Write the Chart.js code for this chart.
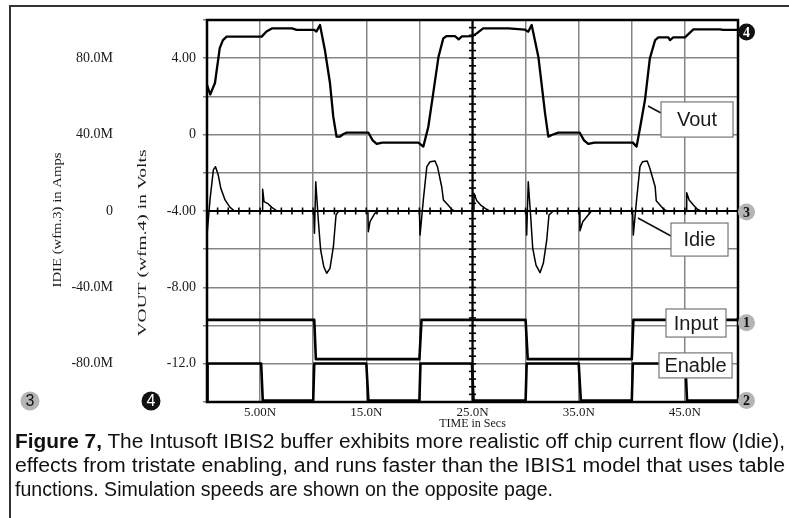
<!DOCTYPE html>
<html>
<head>
<meta charset="utf-8">
<script src="https://cdn.jsdelivr.net/npm/chart.js@4.4.1/dist/chart.umd.min.js"></script>
<style>
  html, body { margin: 0; padding: 0; background: #fff; }
  #wrap { position: relative; width: 789px; height: 518px; overflow: hidden; }
  #frame { position: absolute; left: 9px; top: 5px; width: 820px; height: 600px;
           border-left: 2px solid #333; border-top: 2px solid #333; }
  canvas { position: absolute; left: 0; top: 0; }
  #caption { position: absolute; left: 15px; top: 429px; color: #111; white-space: nowrap;
             font-family: 'Liberation Sans Narrow', 'Liberation Sans', Arial, sans-serif;
             font-size: 20px; line-height: 24px; }
  #caption span { display: inline-block; transform-origin: 0 50%; }
</style>
</head>
<body>
<div id="wrap">
  <div id="frame"></div>
  <canvas id="scope" width="789" height="518"></canvas>
  <div id="caption">
    <div><span data-w="770"><b>Figure 7,</b> The Intusoft IBIS2 buffer exhibits more realistic off chip current flow (Idie),</span></div>
    <div><span data-w="770">effects from tristate enabling, and runs faster than the IBIS1 model that uses table</span></div>
    <div><span data-w="538">functions. Simulation speeds are shown on the opposite page.</span></div>
  </div>
</div>
<script>
// time axis (ns) and labelled ticks
const timeTicks = [5, 15, 25, 35, 45];
const timeTickText = ['5.00N', '15.0N', '25.0N', '35.0N', '45.0N'];
const voutTicks = [4, 0, -4, -8, -12];
const voutTickText = ['4.00', '0', '-4.00', '-8.00', '-12.0'];
const idieTicks = [80, 40, 0, -40, -80];
const idieTickText = ['80.0M', '40.0M', '0', '-40.0M', '-80.0M'];

// wfm.4 VOUT (V)
const voutT = [0, 0.3, 0.75, 1.2, 1.5, 1.85, 5.15, 5.6, 6.1, 8.0, 8.45, 10.1, 10.3, 10.64, 11.1, 11.58, 11.89, 12.2, 12.5, 12.84, 13.16,
  15.2, 15.6, 15.98, 16.5, 19.9, 20.37, 20.84, 21.3, 21.8, 22.25, 22.57, 23.35, 23.7, 24.0, 25.0, 25.4, 26.0,
  28.4, 29.9, 30.25, 30.57, 31.2, 31.5, 31.83, 32.14, 32.46, 33.08, 35.1, 35.5, 35.9, 36.5, 40.1, 40.45, 40.77,
  41.24, 41.7, 42.2, 42.5, 43.44, 43.6, 43.9, 45.0, 45.4, 45.8, 48.3, 48.6, 50];
const voutV = [2.6, 2.1, 2.7, 4.53, 4.95, 5.13, 5.13, 5.4, 5.56, 5.56, 5.48, 5.48, 5.39, 5.74, 4.43, 2.7, 0.94, -0.11, -0.11, 0.03, 0.1,
  0.1, -0.3, -0.49, -0.42, -0.42, -0.63, 0.41, 2.16, 4.08, 5.04, 5.16, 5.16, 4.99, 5.14, 5.16, 5.3, 5.56,
  5.56, 5.5, 5.39, 5.74, 4.08, 2.68, 1.12, -0.11, -0.02, 0.1, 0.1, -0.3, -0.49, -0.42, -0.42, -0.63, 0.33,
  1.81, 3.99, 4.95, 5.09, 5.09, 4.95, 5.09, 5.09, 5.3, 5.51, 5.51, 5.48, 5.48];

// wfm.3 IDIE (mA)
const idieT = [0, 0.28, 0.6, 0.8, 1.06, 1.3, 1.7, 2.17, 2.6, 5.2, 5.24, 5.37, 5.77, 6.1, 6.6,
  10.05, 10.12, 10.24, 10.48, 10.7, 11.0, 11.27, 11.58, 11.9, 12.15, 12.36, 12.8,
  15.15, 15.19, 15.35, 15.8, 16.2, 20.0, 20.06, 20.37, 20.7, 21.0, 21.47, 21.7, 22.1, 22.26, 22.7, 23.04, 23.3,
  25.1, 25.14, 25.4, 25.77, 26.2, 26.6, 30.05, 30.1, 30.25, 30.48, 30.67, 30.98, 31.36, 31.67, 31.99, 32.2, 32.6,
  35.08, 35.12, 35.38, 35.76, 36.2, 40.08, 40.14, 40.45, 40.77, 41.0, 41.45, 41.7, 42.2, 42.3, 42.65, 43.0, 43.3,
  45.13, 45.17, 45.4, 45.8, 46.17, 46.5, 50];
const idieI = [-12.6, 5.8, 21.5, 23.2, 18.8, 11.9, 5.8, 1.9, 0, 0, 11.4, 4.9, 3.7, 1.9, 0,
  0, -11.7, 15.3, -4.7, -20.4, -29.2, -32.6, -30, -18.7, -2.1, -0.3, 0,
  0, -10.8, -5.6, -1.2, 0, 0, -12.6, 5.8, 23.2, 25.8, 26.2, 23.2, 12.7, 5.8, 3.1, 0.9, 0,
  0, 9.3, 5.4, 3.1, 1.4, 0, 0, -12.6, 15.3, -3, -19.5, -28.3, -32.3, -27.4, -15.2, -2.1, 0,
  0, -10.3, -5.6, -3, 0, 0, -12.6, 5.8, 23.2, 25.8, 26.2, 22.4, 12.7, 5.4, 3.1, 0.9, 0,
  0, 9.6, 5.8, 3.1, 0.9, 0, 0];

// wfm.1 Input and wfm.2 Enable (logic level)
const inputT = [0, 10.1, 10.25, 20.0, 20.2, 30.0, 30.2, 40.0, 40.15, 50];
const inputL = [1, 1, 0, 0, 1, 1, 0, 0, 1, 1];
const enableT = [0, 0.05, 5.1, 5.25, 10.0, 10.1, 15.0, 15.2, 20.0, 20.1, 24.95, 25.1, 30.0, 30.1, 35.0, 35.2, 40.0, 40.1, 45.05, 45.2, 50];
const enableL = [0, 1, 1, 0, 0, 1, 1, 0, 0, 1, 1, 0, 0, 1, 1, 0, 0, 1, 1, 0, 0];

const zip = (xs, ys) => xs.map((t, i) => ({ x: t, y: ys[i] }));

const GRID = '#858585';
const serif = "'Liberation Serif', 'Times New Roman', serif";
const sans = "'Liberation Sans', Arial, sans-serif";

// label boxes placed in time / volt coordinates
const boxes = [
  { text: 'Vout', t0: 42.75, t1: 49.53, v0: 1.71, v1: -0.13, lead: [41.53, 1.5, 42.75, 1.13] },
  { text: 'Idie', t0: 43.69, t1: 49.06, v0: -4.63, v1: -6.36, lead: [40.58, -4.37, 43.69, -5.31] },
  { text: 'Input', t0: 43.22, t1: 48.87, v0: -9.13, v1: -10.6 },
  { text: 'Enable', t0: 42.56, t1: 49.44, v0: -11.43, v1: -12.74 },
];

// rotated axis titles: text, centre x, centre y, printed length
const axisTitles = [
  ['IDIE (wfm.3) in Amps', 58, 220, 135],
  ['VOUT (wfm.4) in Volts', 143, 243, 187],
];

function badge(ctx, x, y, r, label, dark, font) {
  ctx.beginPath();
  ctx.arc(x, y, r, 0, Math.PI * 2);
  ctx.fillStyle = dark ? '#111' : '#b4b4b4';
  ctx.fill();
  ctx.fillStyle = dark ? '#fff' : '#111';
  ctx.font = font;
  ctx.textAlign = 'center';
  ctx.textBaseline = 'middle';
  ctx.fillText(label, x, y + 1);
}

const scopeDecor = {
  id: 'scopeDecor',
  beforeDatasetsDraw(chart) {
    const { ctx, chartArea: a, scales: { x, yI, yV } } = chart;
    const seg = (x1, y1, x2, y2) => { ctx.beginPath(); ctx.moveTo(x1, y1); ctx.lineTo(x2, y2); ctx.stroke(); };
    const cx = x.getPixelForValue(25);
    const cy = yI.getPixelForValue(0);
    ctx.save();
    ctx.strokeStyle = '#000';
    ctx.lineWidth = 2.2;
    seg(a.left, cy, a.right, cy);
    seg(cx, a.top, cx, a.bottom);
    ctx.lineWidth = 1.6;
    for (let t = 0; t <= 50; t++) {
      const px = x.getPixelForValue(t);
      seg(px, cy - 3.5, px, cy + 3.5);
    }
    for (let k = 0; k <= 50; k++) {
      const py = yV.getPixelForValue(-14 + k * 0.4);
      seg(cx - 3.5, py, cx + 3.5, py);
    }
    ctx.restore();
  },
  afterDatasetsDraw(chart) {
    const { ctx, chartArea: a, scales: { x, yV, yI, yIn, yEn } } = chart;
    const seg = (x1, y1, x2, y2) => { ctx.beginPath(); ctx.moveTo(x1, y1); ctx.lineTo(x2, y2); ctx.stroke(); };
    ctx.save();
    // input trace runs on to its marker
    const inY = yIn.getPixelForValue(inputL[inputL.length - 1]);
    ctx.strokeStyle = '#000';
    ctx.lineWidth = 2.5;
    seg(a.right - 2, inY, a.right + 6, inY);

    // plot frame
    ctx.lineWidth = 2.5;
    ctx.strokeRect(a.left, a.top, a.right - a.left, a.bottom - a.top);

    // label boxes
    boxes.forEach(b => {
      const l = x.getPixelForValue(b.t0), r = x.getPixelForValue(b.t1);
      const t = yV.getPixelForValue(b.v0), btm = yV.getPixelForValue(b.v1);
      if (b.lead) {
        ctx.strokeStyle = '#111';
        ctx.lineWidth = 1.6;
        seg(x.getPixelForValue(b.lead[0]), yV.getPixelForValue(b.lead[1]), x.getPixelForValue(b.lead[2]), yV.getPixelForValue(b.lead[3]));
      }
      ctx.fillStyle = '#fff';
      ctx.fillRect(l, t, r - l, btm - t);
      ctx.strokeStyle = '#777';
      ctx.lineWidth = 1.2;
      ctx.strokeRect(l, t, r - l, btm - t);
      ctx.fillStyle = '#1a1a1a';
      ctx.font = '20px ' + sans;
      ctx.textAlign = 'center';
      ctx.textBaseline = 'middle';
      ctx.fillText(b.text, (l + r) / 2, (t + btm) / 2 + 1);
    });

    // waveform markers
    const bx = a.right + 8.5;
    const bf = 'bold 14px ' + serif;
    badge(ctx, bx, yV.getPixelForValue(voutV[voutV.length - 1]) + 2, 8.5, '4', true, bf);
    badge(ctx, bx, yI.getPixelForValue(0) + 1, 8.5, '3', false, bf);
    badge(ctx, bx, inY + 3, 8.5, '1', false, bf);
    badge(ctx, bx, yEn.getPixelForValue(0), 8.5, '2', false, bf);
    badge(ctx, 30, a.bottom - 1, 9.5, '3', false, '16px ' + sans);
    badge(ctx, 151, a.bottom - 1, 9.5, '4', true, '16px ' + sans);

    // axis titles, stretched to the printed length
    ctx.fillStyle = '#1a1a1a';
    ctx.font = '13px ' + serif;
    ctx.textAlign = 'center';
    ctx.textBaseline = 'middle';
    axisTitles.forEach(([s, tx, ty, len]) => {
      const w = ctx.measureText(s).width;
      ctx.save();
      ctx.translate(tx, ty);
      ctx.rotate(-Math.PI / 2);
      ctx.scale(len / w, 1);
      ctx.fillText(s, 0, 0);
      ctx.restore();
    });
    ctx.restore();
  }
};

const tickFont = { family: serif, size: 13 };
const yTickFont = { family: serif, size: 14 };

new Chart(document.getElementById('scope').getContext('2d'), {
  type: 'line',
  data: {
    datasets: [
      { label: 'Vout', data: zip(voutT, voutV), yAxisID: 'yV', borderColor: '#000', borderWidth: 2.3 },
      { label: 'Idie', data: zip(idieT, idieI), yAxisID: 'yI', borderColor: '#000', borderWidth: 1.5 },
      { label: 'Input', data: zip(inputT, inputL), yAxisID: 'yIn', borderColor: '#000', borderWidth: 2.6 },
      { label: 'Enable', data: zip(enableT, enableL), yAxisID: 'yEn', borderColor: '#000', borderWidth: 2.6 },
    ],
  },
  options: {
    responsive: false,
    animation: false,
    layout: { padding: { left: 0, top: 20, right: 51, bottom: 86 } },
    elements: { point: { radius: 0 }, line: { tension: 0, borderJoinStyle: 'round' } },
    plugins: { legend: { display: false }, tooltip: { enabled: false } },
    scales: {
      x: {
        type: 'linear', min: 0, max: 50,
        ticks: {
          stepSize: 5, autoSkip: false, maxRotation: 0, padding: 3, color: '#1a1a1a', font: tickFont,
          callback: v => { const i = timeTicks.indexOf(v); return i < 0 ? '' : timeTickText[i]; },
        },
        grid: { color: GRID, lineWidth: 1.5, drawTicks: false },
        border: { display: false },
        title: { display: true, text: 'TIME in Secs', color: '#1a1a1a', font: { family: serif, size: 12 }, padding: { top: 0, bottom: 1 } },
        afterFit: s => { s.height = 30; },
      },
      yI: {
        position: 'left', weight: 1, min: -100, max: 100,
        ticks: {
          stepSize: 20, autoSkip: false, padding: 7, color: '#1a1a1a', font: yTickFont,
          callback: v => { const i = idieTicks.indexOf(v); return i < 0 ? '' : idieTickText[i]; },
        },
        grid: { display: false, drawTicks: false },
        border: { display: false },
        afterFit: s => { s.width = 120; },
      },
      yV: {
        position: 'left', weight: 0, min: -14, max: 6,
        ticks: {
          stepSize: 2, autoSkip: false, padding: 7, color: '#1a1a1a', font: yTickFont,
          callback: v => { const i = voutTicks.indexOf(v); return i < 0 ? '' : voutTickText[i]; },
        },
        grid: { color: GRID, lineWidth: 1.5, tickLength: 4 },
        border: { display: false },
        afterFit: s => { s.width = 87; },
      },
      yIn: { display: false, min: -1.09, max: 8.63 },
      yEn: { display: false, min: -0.04, max: 10.28 },
    },
  },
  plugins: [scopeDecor],
});

// squeeze caption lines to the printed width
document.querySelectorAll('#caption span').forEach(sp => {
  const w = sp.getBoundingClientRect().width;
  sp.style.transform = `scaleX(${(+sp.dataset.w / w).toFixed(4)})`;
});
</script>
</body>
</html>
